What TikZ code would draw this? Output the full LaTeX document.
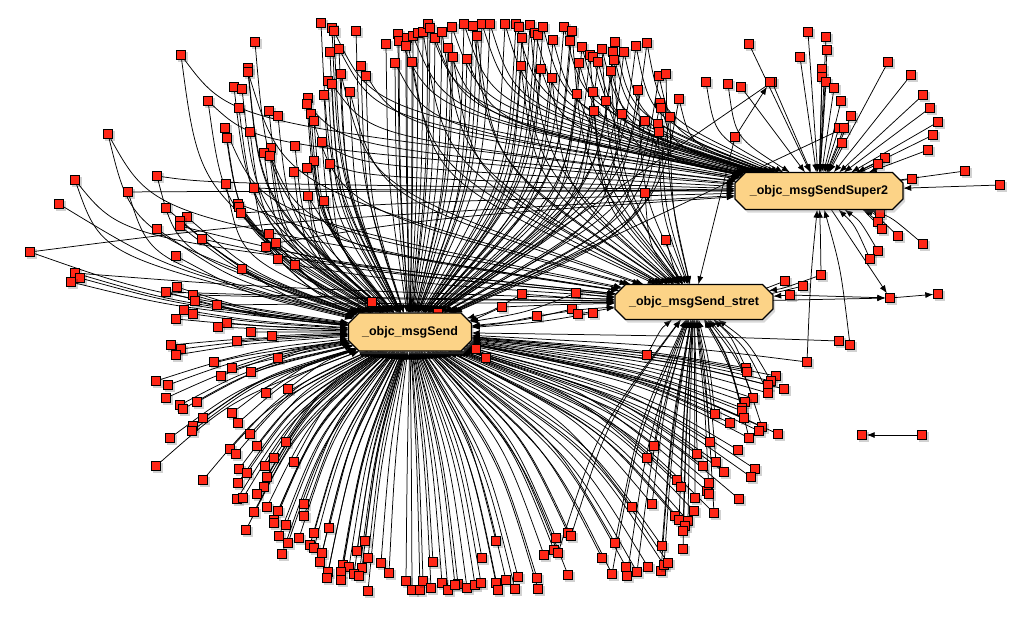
\documentclass[tikz,border=0pt]{standalone}
\usepackage{fontspec}
\setmainfont{Liberation Sans}
\usetikzlibrary{shapes.misc,arrows.meta,shadows,calc}
\definecolor{hubfill}{RGB}{252,211,135}
\definecolor{sqred}{RGB}{255,38,22}
\def\sqlist{255/42/{A}, 181/55/{A,C}, 248/68/{A}, 248/72/{A,B}, 234/87/{A}, 242/89/{A}, 208/101/{A,C}, 239/108/{A}, 225/128/{A,B}, 250/132/{A}, 227/138/{A}, 108/134/{A,B}, 157/176/{A,C}, 75/180/{A,B}, 226/184/{A}, 254/188/{A,C}, 128/192/{A,C}, 59/204/{A}, 166/208/{A}, 238/204/{A,B},
321/23/{A}, 332/28/{A}, 334/31/{A,C}, 356/31/{A}, 386/44/{A}, 398/34/{A,C}, 399/41/{A}, 407/38/{A,B}, 406/46/{A}, 413/36/{A,C}, 418/33/{A}, 423/32/{A,B}, 428/24/{A,C}, 430/28/{A}, 435/38/{A,C}, 442/32/{A,B}, 452/27/{A,C}, 464/24/{A,C}, 473/26/{A,B}, 482/24/{A,C}, 490/24/{A,C}, 477/36/{A,B}, 505/24/{A,C}, 448/48/{A,C}, 453/57/{A,B}, 467/59/{A,C}, 395/63/{A,C}, 412/62/{A,B}, 330/52/{A}, 339/49/{A,C}, 361/66/{A,C}, 366/76/{A}, 341/74/{A,B}, 328/81/{A}, 332/84/{A,C}, 350/92/{A,B}, 324/95/{A}, 308/98/{A}, 307/104/{A,C}, 269/111/{A}, 278/116/{A}, 311/114/{A,B}, 314/121/{A}, 322/142/{A,C}, 295/146/{A}, 271/148/{A}, 264/153/{A}, 270/156/{A,B}, 314/161/{A}, 307/168/{A}, 330/164/{A,C}, 294/172/{A}, 308/196/{A,B}, 324/201/{A},
516/24/{A,C}, 519/27/{A}, 530/25/{A,B}, 535/33/{A,C}, 538/35/{A}, 543/27/{A,C}, 522/38/{A,B}, 564/27/{A,C}, 572/31/{A,B}, 553/40/{A,C}, 570/41/{A}, 582/47/{A,C}, 590/55/{A,B}, 593/57/{C}, 598/62/{A,C}, 602/49/{B,C}, 615/42/{A,C}, 613/52/{A,C}, 614/60/{B}, 624/52/{A,C}, 636/46/{A,C}, 647/43/{A,C}, 521/66/{A,B}, 541/69/{A,C}, 552/78/{A,B}, 579/63/{A,C}, 611/71/{B,C}, 577/94/{A,C}, 593/92/{A,B}, 606/101/{C}, 594/111/{A,B}, 622/114/{A,C}, 638/90/{A,B}, 659/76/{A,C}, 666/74/{B}, 660/103/{A,C}, 661/108/{B}, 679/99/{A,C}, 670/117/{A,B}, 645/121/{A,C}, 658/124/{B}, 659/132/{A,C}, 706/82/{C}, 728/84/{C}, 741/87/{C}, 749/44/{C}, 645/193/{B},
808/32/{C}, 826/37/{C}, 827/50/{C}, 800/57/{C}, 822/69/{C}, 822/77/{C}, 826/82/{C}, 772/82/{C,A}, 834/88/{C}, 841/101/{C}, 851/116/{C}, 839/128/{C}, 844/128/{C,A}, 842/143/{C}, 888/62/{C}, 911/75/{C}, 923/95/{C}, 930/108/{C}, 938/122/{C}, 933/135/{C}, 928/150/{C}, 885/158/{C}, 878/164/{C}, 912/179/{C}, 965/171/{C}, 1000/185/{C},
880/213/{C}, 878/222/{C}, 882/229/{C}, 898/236/{C}, 923/244/{C}, 878/251/{C}, 870/259/{C}, 821/275/{B,C}, 785/281/{B}, 803/286/{B}, 839/341/{A}, 850/345/{C}, 807/362/{C,A}, 776/376/{A}, 771/381/{A,B}, 768/385/{A}, 784/389/{A}, 768/393/{A,B},
666/240/{B}, 522/294/{A,B}, 576/293/{A,B}, 537/316/{A,B}, 572/309/{A}, 578/314/{B}, 593/313/{A}, 647/355/{B}, 746/368/{A,B}, 747/372/{A}, 753/398/{A,B}, 745/402/{A}, 742/408/{A,B},
269/234/{A}, 266/247/{A,B}, 276/243/{A,C}, 278/259/{A}, 295/265/{A,B}, 372/302/{A}, 438/313/{A}, 502/307/{A,B}, 476/349/{A}, 486/358/{A}, 272/336/{A}, 278/358/{A}, 266/393/{A}, 288/389/{A},
239/207/{A}, 241/213/{A,C}, 187/217/{A}, 180/221/{A}, 180/226/{A,B}, 157/229/{A}, 202/239/{A,B}, 30/252/{A,C}, 176/256/{A}, 242/269/{A}, 75/273/{A,B}, 80/278/{A}, 71/282/{A}, 166/292/{A,B}, 177/287/{A}, 193/295/{A,B}, 195/301/{A}, 217/305/{A,B}, 184/310/{A}, 193/314/{A}, 176/319/{A}, 227/323/{A}, 218/327/{A}, 251/332/{A}, 237/341/{A}, 171/345/{A}, 181/349/{A}, 176/355/{A}, 214/362/{A}, 232/368/{A}, 251/372/{A}, 221/376/{A}, 156/381/{A}, 168/385/{A}, 166/398/{A}, 197/402/{A}, 180/405/{A}, 183/409/{A}, 232/413/{A},
203/418/{A}, 238/423/{A}, 193/426/{A}, 192/431/{A}, 170/438/{A}, 250/434/{A}, 156/466/{A}, 230/449/{A}, 236/454/{A}, 257/446/{A}, 286/442/{A}, 274/458/{A}, 294/462/{A}, 239/469/{A}, 247/473/{A}, 265/466/{A}, 267/477/{A}, 203/480/{A}, 238/483/{A}, 264/487/{A}, 257/494/{A}, 237/499/{A}, 243/498/{A}, 304/504/{A}, 304/516/{A}, 267/507/{A}, 278/511/{A}, 254/512/{A}, 274/520/{A}, 274/523/{A}, 286/525/{A}, 246/530/{A}, 279/536/{A}, 299/538/{A}, 288/543/{A}, 314/533/{A}, 329/528/{A}, 310/545/{A}, 314/548/{A}, 322/553/{A}, 282/554/{A}, 320/562/{A}, 365/541/{A}, 357/551/{A}, 368/558/{A}, 343/565/{A}, 349/567/{A}, 362/568/{A}, 381/563/{A}, 328/572/{A}, 327/578/{A}, 341/572/{A}, 341/580/{A}, 354/574/{A}, 359/576/{A}, 389/573/{A}, 368/591/{A}, 406/581/{A}, 412/590/{A}, 420/590/{A}, 423/581/{A}, 431/588/{A}, 433/562/{A}, 442/583/{A}, 448/590/{A}, 458/584/{A}, 455/585/{A}, 467/588/{A}, 475/585/{A}, 481/583/{A}, 496/583/{A}, 498/590/{A}, 506/580/{A}, 515/589/{A}, 518/577/{A}, 537/578/{A}, 538/589/{A}, 482/558/{A}, 496/541/{A}, 544/555/{A}, 556/538/{A}, 554/550/{A}, 558/553/{A,B}, 568/533/{A}, 571/536/{A,B}, 568/575/{A}, 615/543/{A,B}, 602/558/{A}, 612/574/{A,B}, 626/567/{A}, 627/576/{B}, 637/572/{A,B}, 648/567/{A}, 661/571/{B}, 664/565/{A,B}, 668/563/{A}, 662/546/{A,B}, 683/549/{B}, 632/507/{A}, 652/504/{A,B}, 675/516/{A}, 679/520/{B}, 688/521/{A,B}, 685/526/{A}, 683/531/{B}, 694/511/{A}, 714/513/{A,B}, 695/498/{B}, 677/480/{A}, 681/487/{A,B}, 707/491/{A}, 709/494/{B}, 709/483/{A}, 739/499/{A}, 654/446/{A,B}, 647/458/{A}, 697/454/{A,B}, 703/466/{A}, 716/462/{A,B}, 724/472/{A}, 710/442/{A,B}, 738/450/{A}, 749/438/{A,B}, 755/469/{A}, 751/477/{A}, 715/414/{A,B}, 730/423/{A}, 742/411/{A,B}, 744/418/{A}, 762/427/{A,B}, 759/431/{A}, 778/434/{A}}
\tikzset{
  hub/.style={chamfered rectangle, chamfered rectangle xsep=7pt, draw=black, line width=1.1pt,
    fill=hubfill, inner sep=2pt, font=\bfseries\fontsize{12.5}{14}\selectfont,
    drop shadow={shadow xshift=2pt, shadow yshift=-3pt, opacity=0.3}},
  hubname/.style={chamfered rectangle, chamfered rectangle xsep=7pt, inner sep=2pt,
    font=\bfseries\fontsize{12.5}{14}\selectfont},
  sqbox/.style={rectangle, minimum size=9pt, inner sep=0pt},
  sq/.style={rectangle, fill=sqred, draw=black, line width=0.5pt, minimum size=9pt, inner sep=0pt},
  sqshadow/.style={rectangle, fill=black, opacity=0.18, minimum size=10pt, inner sep=0pt},
  edge/.style={draw=black, line width=0.75pt, -{Latex[length=8pt,width=6pt]}},
}
\begin{document}
\begin{tikzpicture}[x=1pt,y=-1pt]
\fill[white] (0,0) rectangle (1026,626);
\useasboundingbox (0,0) rectangle (1026,626);
\path node[hubname, minimum width=123pt, minimum height=38pt] (A) at (410,332) {\phantom{\_objc\_msgSend}};
\path node[hubname, minimum width=158pt, minimum height=35pt] (B) at (694,302) {\phantom{\_objc\_msgSend\_stret}};
\path node[hubname, minimum width=168pt, minimum height=37pt] (C) at (819,191) {\phantom{\_objc\_msgSendSuper2}};
\foreach \sx/\sy/\tg [count=\i] in \sqlist {
  \path node[sqbox] (s\i) at (\sx,\sy) {};
}
\path node[sqbox] (p1) at (890,298) {};
\path node[sqbox] (p2) at (938,294) {};
\path node[sqbox] (p3) at (862,435) {};
\path node[sqbox] (p4) at (922,435) {};
\path node[sqbox] (p5) at (735,137) {};
\path node[sqbox] (p6) at (770,82) {};
\path node[sqbox] (p7) at (790,295) {};
% edges
\foreach \sx/\sy/\tg [count=\i] in \sqlist {
  \pgfmathsetmacro\fx{(\sx>=740)*(\sy<200) ? 0.5 : ((\sy<200) ? 0.08 : 0.3)}
  \foreach \h in \tg {
    \coordinate (cxp) at ($(s\i.center)!\fx!(\h.center)$);
    \coordinate (cyp) at ($(s\i.center)!0.5!(\h.center)$);
    \draw[edge] (s\i) .. controls (cxp |- cyp) .. (\h);
  }
}
\draw[edge] (B) -- (p1);
\draw[edge] (p7) -- (p1);
\draw[edge] (C) -- (p1);
\draw[edge] (p1) -- (p2);
\draw[edge] (p4) -- (p3);
\draw[edge] (p5) -- (p6);
\draw[edge] (p5) -- (B);
\draw[edge] (p7) -- (B);
% visible squares
\foreach \sx/\sy/\tg [count=\i] in \sqlist {
  \node[sqshadow] (d\i) at ([xshift=1.5pt,yshift=-2pt]s\i.center) {};
  \node[sq] (v\i) at (s\i.center) {};
}
\foreach \p in {p1,p2,p3,p4,p5,p6,p7} {
  \node[sqshadow] (d\p) at ([xshift=1.5pt,yshift=-2pt]\p.center) {};
  \node[sq] (v\p) at (\p.center) {};
}
% visible hubs
\node[hub, minimum width=123pt, minimum height=38pt] (hA) at (A.center) {\_objc\_msgSend};
\node[hub, minimum width=158pt, minimum height=35pt] (hB) at (B.center) {\_objc\_msgSend\_stret};
\node[hub, minimum width=168pt, minimum height=37pt] (hC) at (C.center) {\_objc\_msgSendSuper2};
\end{tikzpicture}
\end{document}
